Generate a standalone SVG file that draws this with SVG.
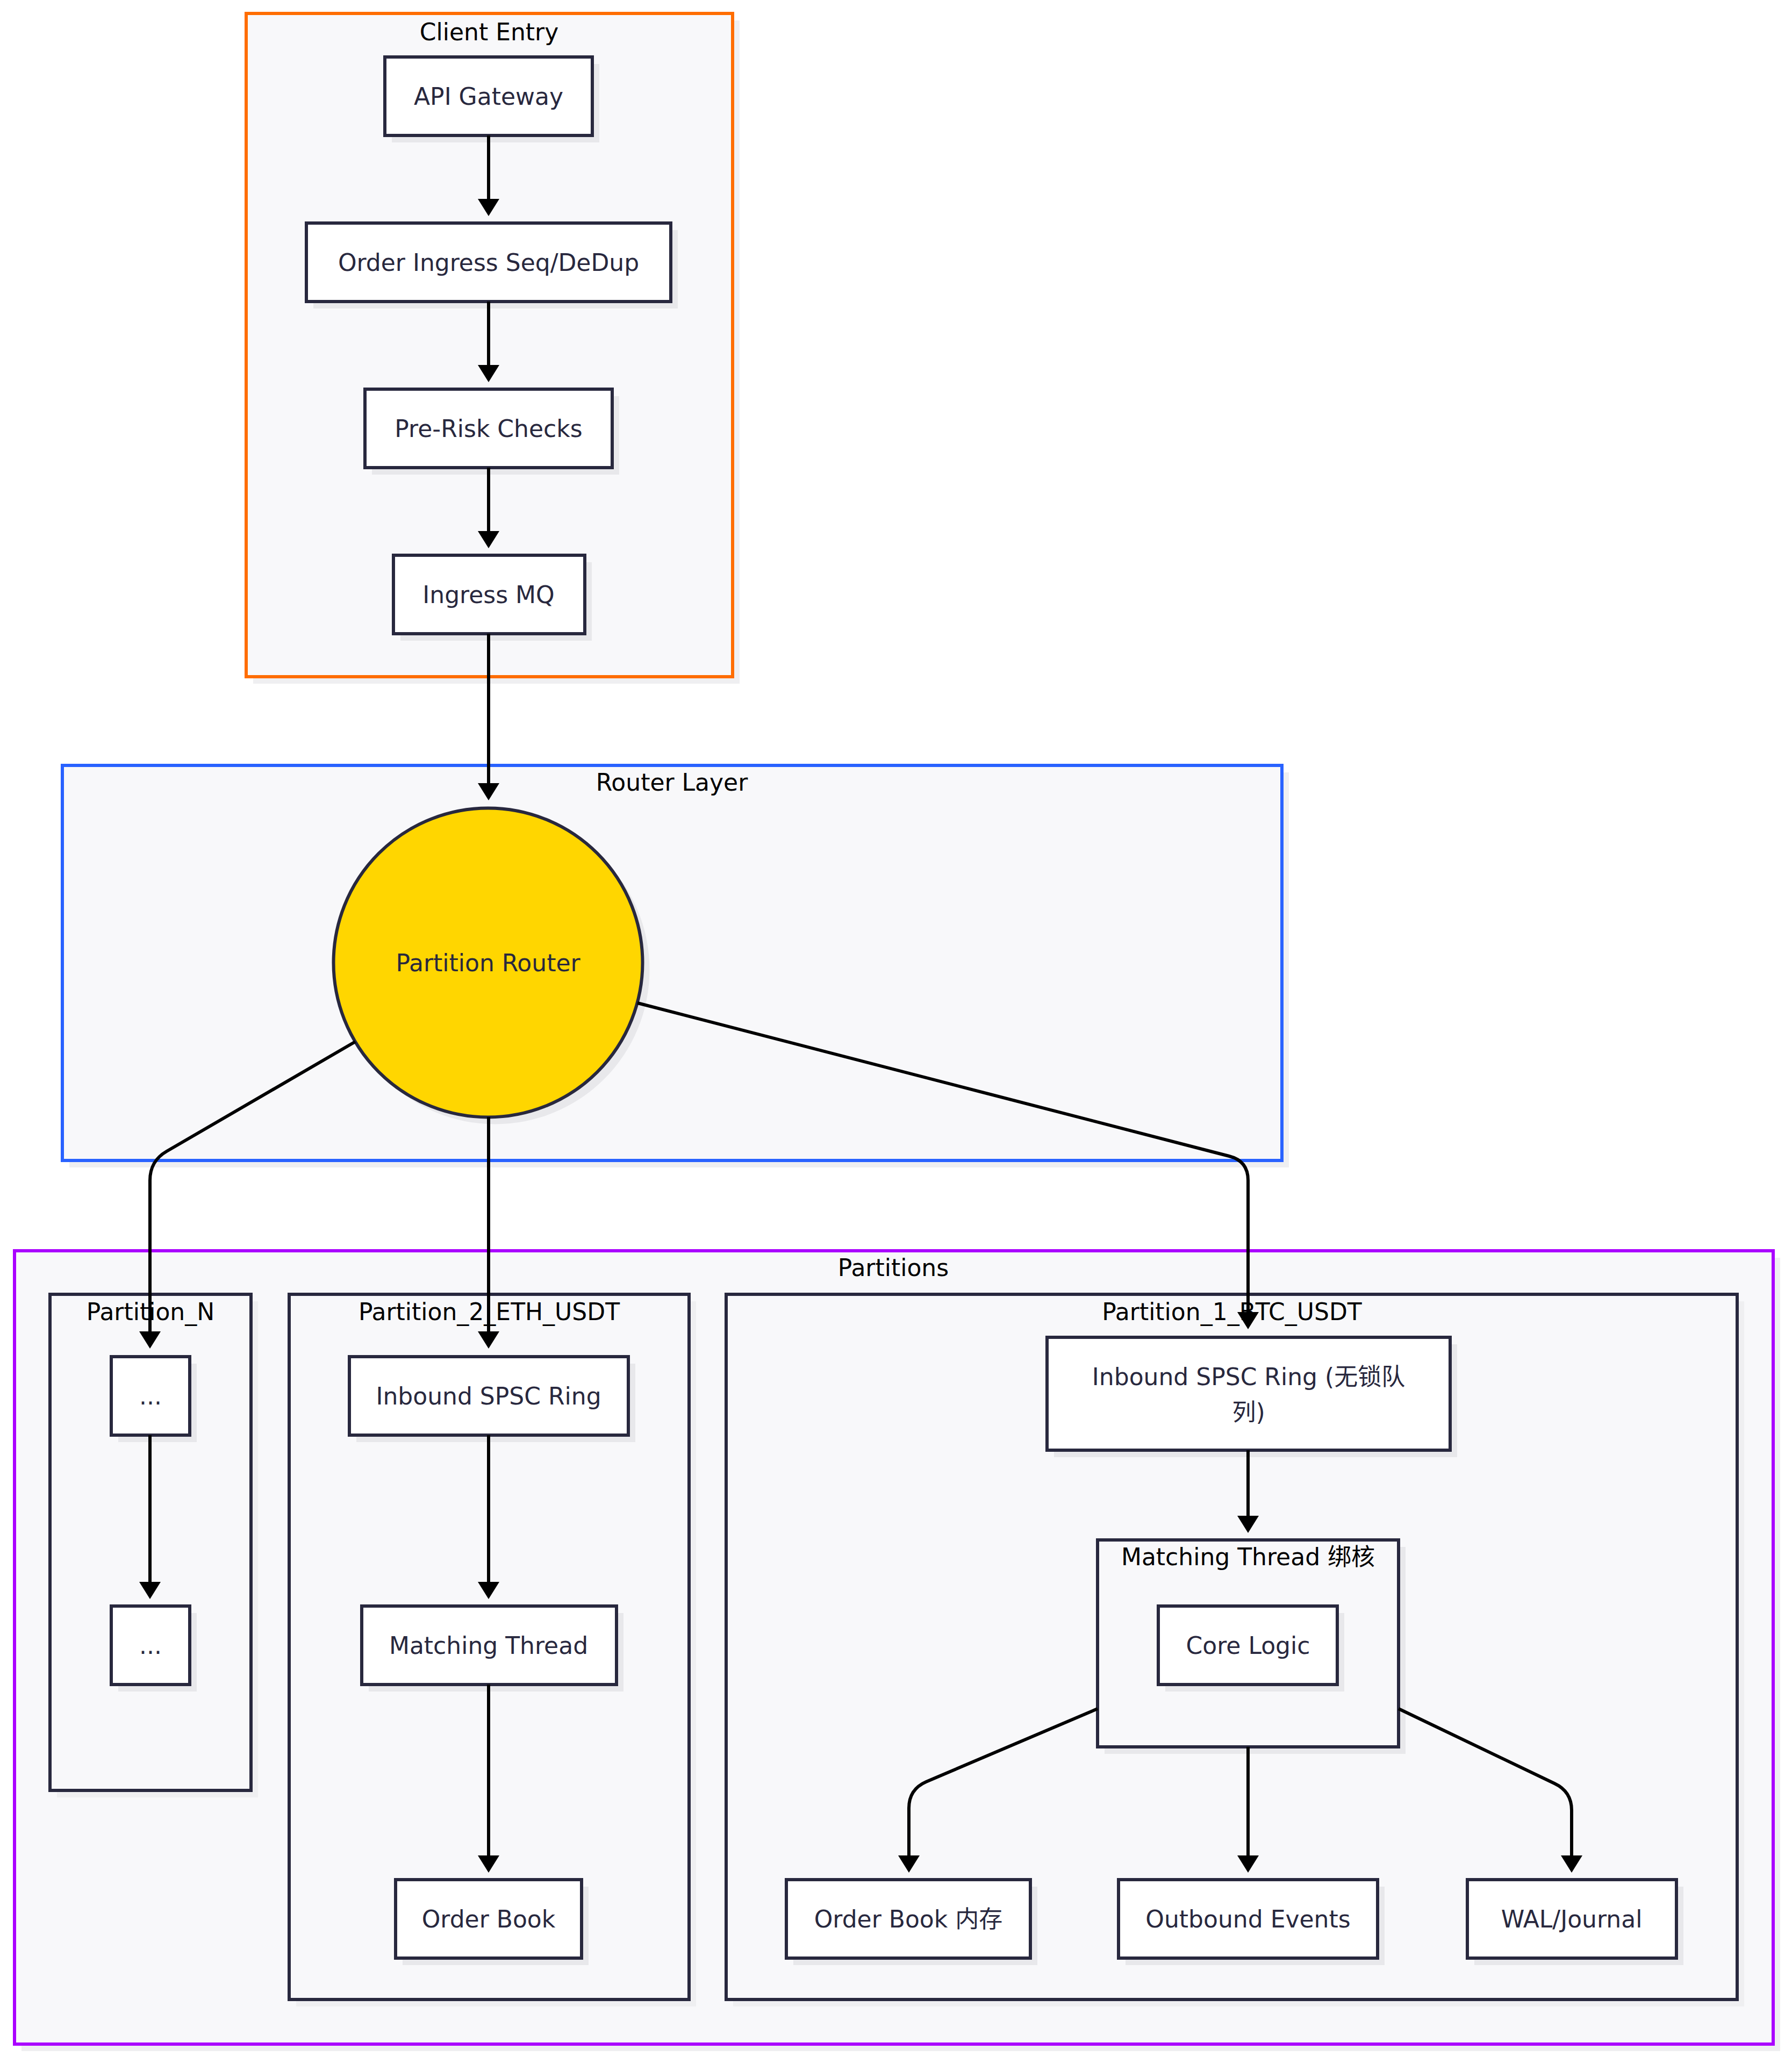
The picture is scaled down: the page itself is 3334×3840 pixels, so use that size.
<svg xmlns="http://www.w3.org/2000/svg" width="3334" height="3840" viewBox="0 0 3334 3840">
<defs>
<style>
.cl{fill:#f8f8fa;stroke-width:6}
.csh{fill:#efeff1}
.nd{fill:#ffffff;stroke:#28283e;stroke-width:6}
.nsh{fill:#e8e8eb}
.ic{fill:#f8f8fa;stroke:#28283e;stroke-width:6}
.ct{font-family:"DejaVu Sans","Noto Sans CJK SC",sans-serif;font-size:44px;fill:#000;text-anchor:middle}
.nt{font-family:"DejaVu Sans","Noto Sans CJK SC",sans-serif;font-size:44px;fill:#28283e;text-anchor:middle}
.ed{fill:none;stroke:#000;stroke-width:6}
</style>
<marker id="arr" viewBox="0 0 32 40" refX="12" refY="20" markerWidth="32" markerHeight="40" markerUnits="userSpaceOnUse" orient="auto"><path d="M0,0 L32,20 L0,40 z" fill="#000"/></marker>
</defs>
<rect width="3334" height="3840" fill="#ffffff"/>

<g id="clusters">
<g id="cluster-client-entry">
<rect class="csh" x="471" y="38" width="905" height="1234"/>
<rect class="cl" x="458" y="25" width="905" height="1234" stroke="#ff6d00"/>
<text class="ct" x="910" y="75">Client Entry</text>
</g>
<g id="cluster-router-layer">
<rect class="csh" x="129" y="1437" width="2269" height="735"/>
<rect class="cl" x="116" y="1424" width="2269" height="735" stroke="#2962ff"/>
<text class="ct" x="1250" y="1471">Router Layer</text>
</g>
<g id="cluster-partitions">
<rect class="csh" x="40" y="2340" width="3272" height="1476"/>
<rect class="cl" x="27" y="2327" width="3272" height="1476" stroke="#aa00ff"/>
<text class="ct" x="1662" y="2374">Partitions</text>
</g>
<g id="cluster-partition-n">
<rect class="csh" x="106" y="2421" width="374" height="923"/>
<rect class="ic" x="93" y="2408" width="374" height="923"/>
<text class="ct" x="280" y="2456">Partition_N</text>
</g>
<g id="cluster-partition-2">
<rect class="csh" x="551" y="2421" width="744" height="1312"/>
<rect class="ic" x="538" y="2408" width="744" height="1312"/>
<text class="ct" x="910" y="2456">Partition_2_ETH_USDT</text>
</g>
<g id="cluster-partition-1">
<rect class="csh" x="1364" y="2421" width="1881" height="1312"/>
<rect class="ic" x="1351" y="2408" width="1881" height="1312"/>
<text class="ct" x="2292" y="2456">Partition_1_BTC_USDT</text>
</g>
<g id="cluster-matching-thread">
<rect class="nsh" x="2055" y="2878" width="560" height="385"/>
<rect class="ic" x="2042" y="2865" width="560" height="385"/>
<text class="ct" x="2322" y="2912">Matching Thread 绑核</text>
</g>
</g>

<g id="nodes">
<g id="api-gateway">
<rect class="nsh" x="729" y="119" width="386" height="146"/>
<rect class="nd" x="716" y="106" width="386" height="146"/>
<text class="nt" x="909" y="195">API Gateway</text>
</g>
<g id="order-ingress">
<rect class="nsh" x="583" y="428" width="678" height="146"/>
<rect class="nd" x="570" y="415" width="678" height="146"/>
<text class="nt" x="909" y="504">Order Ingress Seq/DeDup</text>
</g>
<g id="pre-risk">
<rect class="nsh" x="692" y="737" width="460" height="146"/>
<rect class="nd" x="679" y="724" width="460" height="146"/>
<text class="nt" x="909" y="813">Pre-Risk Checks</text>
</g>
<g id="ingress-mq">
<rect class="nsh" x="745" y="1046" width="356" height="146"/>
<rect class="nd" x="732" y="1033" width="356" height="146"/>
<text class="nt" x="909" y="1122">Ingress MQ</text>
</g>
<g id="partition-router">
<circle cx="921" cy="1804" r="287.5" fill="#e8e8eb"/>
<circle cx="908" cy="1791" r="287.5" fill="#ffd600" stroke="#28283e" stroke-width="6"/>
<text class="nt" x="908" y="1807">Partition Router</text>
</g>
<g id="pn-dots-1">
<rect class="nsh" x="220" y="2537" width="146" height="146"/>
<rect class="nd" x="207" y="2524" width="146" height="146"/>
<text class="nt" x="280" y="2613">...</text>
</g>
<g id="pn-dots-2">
<rect class="nsh" x="220" y="3001" width="146" height="146"/>
<rect class="nd" x="207" y="2988" width="146" height="146"/>
<text class="nt" x="280" y="3077">...</text>
</g>
<g id="p2-inbound">
<rect class="nsh" x="663" y="2537" width="519" height="146"/>
<rect class="nd" x="650" y="2524" width="519" height="146"/>
<text class="nt" x="909" y="2613">Inbound SPSC Ring</text>
</g>
<g id="p2-matching">
<rect class="nsh" x="686" y="3001" width="474" height="146"/>
<rect class="nd" x="673" y="2988" width="474" height="146"/>
<text class="nt" x="909" y="3077">Matching Thread</text>
</g>
<g id="p2-orderbook">
<rect class="nsh" x="749" y="3510" width="346" height="146"/>
<rect class="nd" x="736" y="3497" width="346" height="146"/>
<text class="nt" x="909" y="3586">Order Book</text>
</g>
<g id="p1-inbound">
<rect class="nsh" x="1961" y="2501" width="750" height="210"/>
<rect class="nd" x="1948" y="2488" width="750" height="210"/>
<text class="nt" x="2323" y="2577">Inbound SPSC Ring (无锁队</text>
<text class="nt" x="2323" y="2643">列)</text>
</g>
<g id="core-logic">
<rect class="nsh" x="2168" y="3001" width="333" height="146"/>
<rect class="nd" x="2155" y="2988" width="333" height="146"/>
<text class="nt" x="2322" y="3077">Core Logic</text>
</g>
<g id="p1-orderbook">
<rect class="nsh" x="1476" y="3510" width="454" height="146"/>
<rect class="nd" x="1463" y="3497" width="454" height="146"/>
<text class="nt" x="1690" y="3586">Order Book 内存</text>
</g>
<g id="outbound-events">
<rect class="nsh" x="2094" y="3510" width="482" height="146"/>
<rect class="nd" x="2081" y="3497" width="482" height="146"/>
<text class="nt" x="2322" y="3586">Outbound Events</text>
</g>
<g id="wal-journal">
<rect class="nsh" x="2743" y="3510" width="389" height="146"/>
<rect class="nd" x="2730" y="3497" width="389" height="146"/>
<text class="nt" x="2924" y="3586">WAL/Journal</text>
</g>
</g>

<g id="connectors">
<path class="ed" marker-end="url(#arr)" d="M909,252 L909,382"/>
<path class="ed" marker-end="url(#arr)" d="M909,561 L909,691"/>
<path class="ed" marker-end="url(#arr)" d="M909,870 L909,1000"/>
<path class="ed" marker-end="url(#arr)" d="M909,1179 L909,1469"/>
<path class="ed" marker-end="url(#arr)" d="M661,1938 L310,2142 Q279,2160 279,2196 L279,2489"/>
<path class="ed" marker-end="url(#arr)" d="M909,2078 L909,2489"/>
<path class="ed" marker-end="url(#arr)" d="M1186,1866 L2287,2151 Q2322,2160 2322,2196 L2322,2453"/>
<path class="ed" marker-end="url(#arr)" d="M279,2670 L279,2955"/>
<path class="ed" marker-end="url(#arr)" d="M909,2670 L909,2955"/>
<path class="ed" marker-end="url(#arr)" d="M909,3134 L909,3464"/>
<path class="ed" marker-end="url(#arr)" d="M2322,2698 L2322,2832"/>
<path class="ed" marker-end="url(#arr)" d="M2042,3179 L1723,3315 Q1691,3329 1691,3364 L1691,3464"/>
<path class="ed" marker-end="url(#arr)" d="M2322,3250 L2322,3464"/>
<path class="ed" marker-end="url(#arr)" d="M2602,3179 L2892,3318 Q2924,3333 2924,3368 L2924,3464"/>
</g>
</svg>
